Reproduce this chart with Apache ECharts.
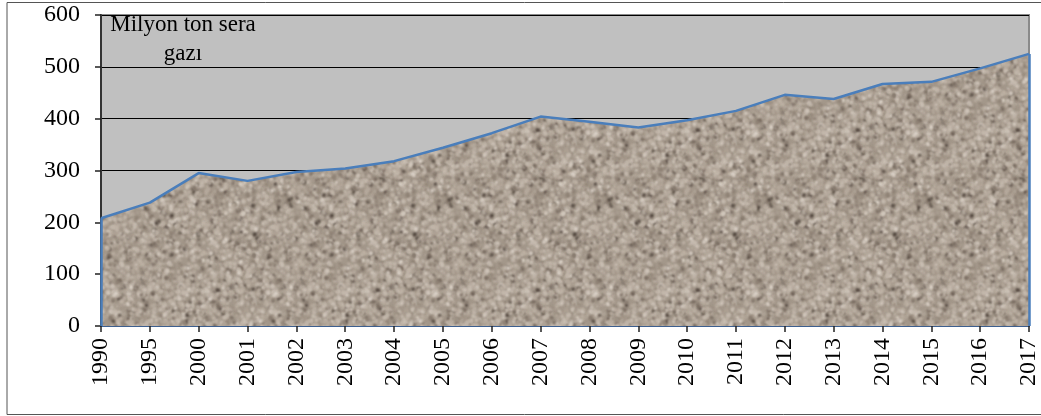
<!DOCTYPE html>
<html>
<head>
<meta charset="utf-8">
<script src="https://cdn.jsdelivr.net/npm/echarts@6/dist/echarts.min.js"></script>
<style>
  html, body { margin: 0; padding: 0; background: #ffffff; }
  #chart { width: 1041px; height: 416px; }
</style>
</head>
<body>
<div id="chart"></div>
<script>
// Yıllık sera gazı emisyonu (milyon ton)
const years = ['1990', '1995', '2000', '2001', '2002', '2003', '2004', '2005', '2006', '2007',
               '2008', '2009', '2010', '2011', '2012', '2013', '2014', '2015', '2016', '2017'];
const emissions = [208, 238, 295, 280, 297, 304, 318, 344, 372, 404,
                   394, 383, 397, 415, 446, 438, 467, 471, 497, 525];
const yTicks = [0, 100, 200, 300, 400, 500, 600];
const titleLines = ['Milyon ton sera', 'gazı'];

// Granite-like fill texture built on a small canvas (seeded, so it is stable)
function graniteTexture() {
  const size = 160;
  const c = document.createElement('canvas');
  c.width = size; c.height = size;
  const ctx = c.getContext('2d');
  let seed = 12345;
  const rnd = () => { seed = (seed * 1103515245 + 12345) & 0x7fffffff; return seed / 0x7fffffff; };
  ctx.fillStyle = '#a3978a';
  ctx.fillRect(0, 0, size, size);
  const palette = ['#c4b9ad', '#d2c8bd', '#b5a99c', '#bfb3a6', '#8e8174', '#76695e', '#ddd4ca', '#4f443c'];
  const weights = [3, 2, 3, 3, 2, 1.5, 1.2, 0.8];
  const total = weights.reduce((a, b) => a + b, 0);
  const pick = () => {
    let t = rnd() * total;
    for (let k = 0; k < weights.length; k++) { t -= weights[k]; if (t <= 0) return palette[k]; }
    return palette[0];
  };
  ctx.filter = 'blur(0.8px)';
  for (let i = 0; i < 3600; i++) {
    const x = rnd() * size, y = rnd() * size;
    const r = 0.8 + rnd() * 1.5;
    const ry = r * (0.5 + rnd() * 0.7);
    const rot = rnd() * Math.PI;
    ctx.fillStyle = pick();
    for (let dx = -size; dx <= size; dx += size) {
      for (let dy = -size; dy <= size; dy += size) {
        ctx.beginPath();
        ctx.ellipse(x + dx, y + dy, r, ry, rot, 0, Math.PI * 2);
        ctx.fill();
      }
    }
  }
  return c;
}

const chart = echarts.init(document.getElementById('chart'));
const lineBlue = '#4a7ebb';
const serif = '"Liberation Serif", "Times New Roman", serif';

chart.setOption({
  animation: false,
  backgroundColor: '#ffffff',
  grid: {
    left: 101, right: 8, top: 15, bottom: 90,
    show: true,
    backgroundColor: '#c0c0c0',
    borderColor: '#8a8a8a',
    borderWidth: 2
  },
  graphic: [
    {
      type: 'rect',
      shape: { x: 7, y: 2.5, width: 1040, height: 412 },
      style: { fill: 'none', stroke: '#555555', lineWidth: 1 },
      silent: true, z: 0
    },
    {
      type: 'text',
      x: 183, y: 10,
      style: {
        text: titleLines.join('\n'),
        align: 'center',
        textAlign: 'center',
        verticalAlign: 'top',
        font: '23px ' + serif,
        lineHeight: 29,
        fill: '#000000'
      },
      z: 10
    }
  ],
  xAxis: {
    type: 'category',
    data: years,
    boundaryGap: false,
    axisLine: { show: true, lineStyle: { color: '#3d5f8f', width: 2 } },
    axisTick: { show: true, alignWithLabel: true, length: 6, lineStyle: { color: '#222', width: 1.5 }, interval: 0 },
    axisLabel: {
      rotate: 90, interval: 0, margin: 12,
      fontFamily: serif, fontSize: 24, color: '#000'
    },
    splitLine: { show: false }
  },
  yAxis: {
    type: 'value',
    min: yTicks[0], max: yTicks[yTicks.length - 1], interval: 100,
    axisLine: { show: true, lineStyle: { color: '#333333', width: 2 } },
    axisTick: { show: true, length: 6, lineStyle: { color: '#222', width: 1.5 } },
    axisLabel: {
      margin: 21,
      fontFamily: serif, fontSize: 24, color: '#000'
    },
    splitLine: { show: true, lineStyle: { color: '#000000', width: 1 } }
  },
  series: [{
    type: 'line',
    data: emissions,
    symbol: 'none',
    lineStyle: { color: lineBlue, width: 2.5 },
    areaStyle: { color: { image: graniteTexture(), repeat: 'repeat' }, opacity: 1 },
    z: 3,
    markLine: {
      silent: true,
      symbol: 'none',
      label: { show: false },
      lineStyle: { color: lineBlue, width: 2.5, type: 'solid' },
      data: [
        [{ coord: [years[0], 0] }, { coord: [years[0], emissions[0]] }],
        [{ coord: [years[years.length - 1], 0] }, { coord: [years[years.length - 1], emissions[emissions.length - 1]] }]
      ]
    }
  }]
});
</script>
</body>
</html>
